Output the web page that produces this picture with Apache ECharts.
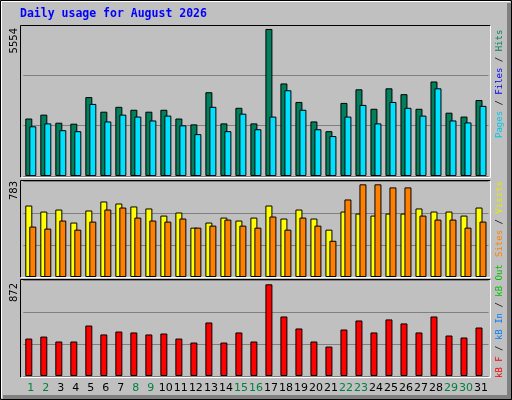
<!DOCTYPE html>
<html><head><meta charset="utf-8">
<script src="https://cdn.jsdelivr.net/npm/echarts@6/dist/echarts.min.js"></script>
<style>html,body{margin:0;padding:0;background:#c0c0c0}#c{width:512px;height:400px}</style>
</head><body><div id="c"></div>
<script>
const days = ['1','2','3','4','5','6','7','8','9','10','11','12','13','14','15','16','17','18','19','20','21','22','23','24','25','26','27','28','29','30','31'];
const weekend = ['1','2','8','9','15','16','22','23','29','30'];
const hits = [2171,2318,2013,1976,2981,2429,2613,2502,2429,2502,2171,1950,3165,1987,2576,1987,5554,3496,2797,2061,1693,2760,3275,2539,3312,3091,2539,3570,2392,2245,2870];
const files = [1877,1987,1730,1693,2723,2061,2318,2245,2098,2282,1914,1582,2613,1693,2355,1766,2245,3238,2502,1766,1509,2245,2686,1987,2797,2576,2282,3312,2098,2024,2650];
const visits = [604,553,570,460,562,638,621,596,579,519,545,417,460,502,477,502,604,494,570,494,400,553,536,519,536,536,579,553,553,519,587];
const sites = [426,409,477,400,468,570,587,502,477,468,494,417,434,485,434,417,511,400,502,434,306,655,783,783,757,757,519,485,485,417,468];
const kbytes = [356,375,328,328,480,395,423,414,395,404,356,318,509,318,414,328,872,566,452,328,280,442,528,414,538,500,414,566,385,366,461];

const chart = echarts.init(document.getElementById('c'));
const L = 23.3, R = 23.5;
const grids = [{left:L,right:R,top:25,height:151},{left:L,right:R,top:181,height:96},{left:L,right:R,top:280,height:96}];
function yax(i, data, k){
  const m = Math.max(...data)*k;
  return {gridIndex:i,type:'value',min:0,max:m,interval:m/3,axisLabel:{show:false},axisLine:{show:false},axisTick:{show:false},
    splitLine:{show:true,lineStyle:{color:'#808080',width:1}}};
}
function xax(i, show){
  return {gridIndex:i,type:'category',data:days,boundaryGap:true,axisLine:{show:false},axisTick:{show:false},splitLine:{show:false},
    axisLabel:{show:show,margin:7,fontSize:11,fontFamily:'DejaVu Sans',interval:0,
      color:function(v){return weekend.indexOf(v)>=0?'#008040':'#000000';}}};
}
const bs = {borderColor:'#000',borderWidth:1};
function bar(i,data,color){return {type:'bar',xAxisIndex:i,yAxisIndex:i,data:data,barWidth:7,barGap:'-43%',itemStyle:Object.assign({color:color},bs),animation:false};}
const mono = 'DejaVu Sans Mono';
function rot(x,y,parts){
  return {type:'text',x:x,y:y,rotation:Math.PI/2,style:{text:parts.map((p,j)=>'{s'+j+'|'+p[0]+'}').join(''),
    rich:Object.fromEntries(parts.map((p,j)=>['s'+j,{fill:p[1],fontFamily:mono,fontSize:9}])),align:'left',verticalAlign:'middle'}};
}
function frame(x1,y1,x2,y2){
  return [{type:'polyline',shape:{points:[[x1,y2],[x1,y1],[x2,y1]]},style:{stroke:'#000',lineWidth:1,fill:null},z:10},
          {type:'polyline',shape:{points:[[x2,y1],[x2,y2],[x1,y2]]},style:{stroke:'#fff',lineWidth:1,fill:null},z:10}];
}
chart.setOption({
  backgroundColor:'#c0c0c0',animation:false,
  grid:grids,
  xAxis:[xax(0,false),xax(1,false),xax(2,true)],
  yAxis:[yax(0,hits,1.027),yax(1,sites,1.036),yax(2,kbytes,1.047)],
  series:[bar(0,hits,'#00805c'),bar(0,files,'#00e0ff'),bar(1,visits,'#ffff00'),bar(1,sites,'#ff8000'),
          bar(2,kbytes,'#ff0000'),{type:'bar',xAxisIndex:2,yAxisIndex:2,data:[],barWidth:7,barGap:'-43%'}],
  graphic:[
    {type:'rect',shape:{x:507,y:3,width:5,height:397},style:{fill:'#808080'},z:1},
    {type:'rect',shape:{x:3,y:395,width:509,height:5},style:{fill:'#808080'},z:1},
    {type:'rect',shape:{x:0.5,y:0.5,width:511,height:399},style:{stroke:'#000',fill:null,lineWidth:1},z:2},
    {type:'polyline',shape:{points:[[1.5,398],[1.5,1.5],[510,1.5]]},style:{stroke:'#fff',lineWidth:1,fill:null},z:2},
    ...frame(20.5,25.5,490.5,177.5),...frame(20.5,180.5,490.5,277.5),...frame(20.5,279.5,490.5,377.5),
    {type:'text',x:20,y:8,style:{text:'Daily usage for August 2026',fill:'#0000ff',font:'bold 11.5px "DejaVu Sans Mono"'}},
    {type:'text',x:14,y:28,rotation:Math.PI/2,style:{text:'5554',fill:'#000',font:'10px "DejaVu Sans"',align:'right',verticalAlign:'middle'}},
    {type:'text',x:14,y:181,rotation:Math.PI/2,style:{text:'783',fill:'#000',font:'10px "DejaVu Sans"',align:'right',verticalAlign:'middle'}},
    {type:'text',x:14,y:283,rotation:Math.PI/2,style:{text:'872',fill:'#000',font:'10px "DejaVu Sans"',align:'right',verticalAlign:'middle'}},
    rot(500,138,[['Pages','#00c8e8'],[' / ','#000'],['Files','#0000ff'],[' / ','#000'],['Hits','#00805c']]),
    rot(500,257,[['Sites','#ff8000'],[' / ','#000'],['Visits','#e8e800']]),
    rot(500,378,[['kB F','#ff0000'],[' / ','#000'],['kB In','#0080ff'],[' / ','#000'],['kB Out','#00c000']])
  ]
});
</script></body></html>
